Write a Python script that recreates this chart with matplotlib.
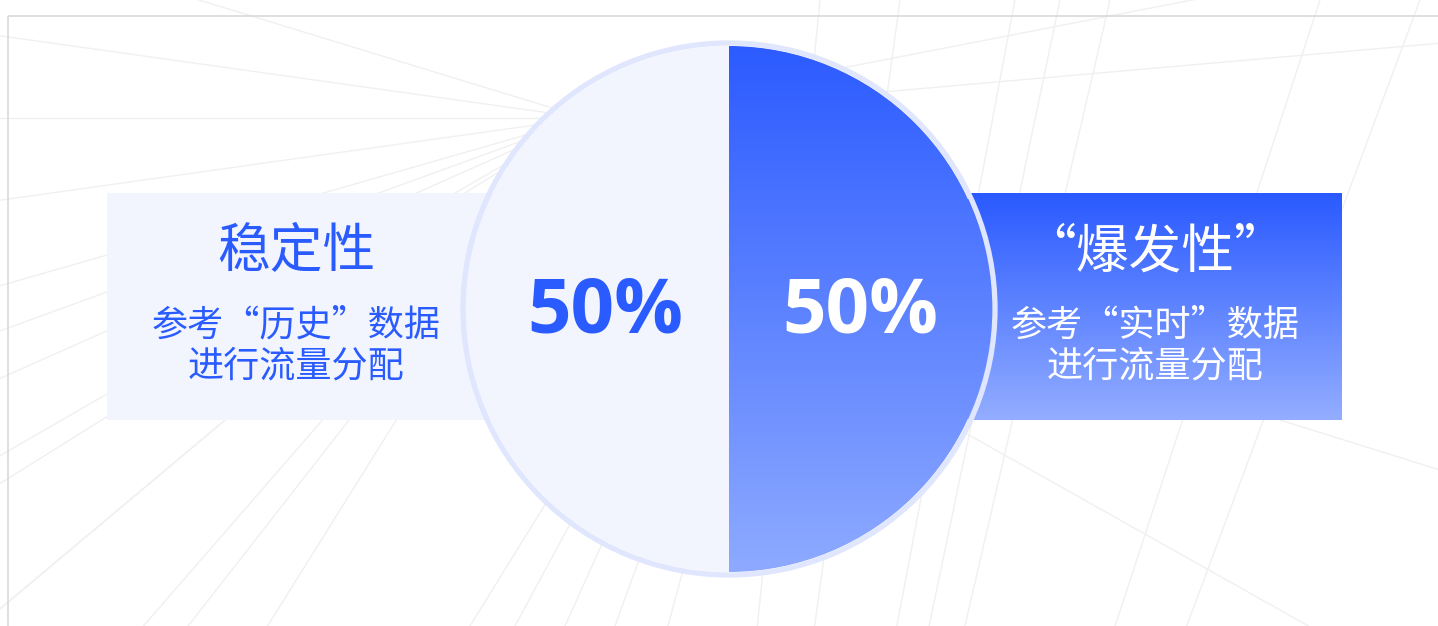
import numpy as np
import matplotlib.pyplot as plt
from matplotlib.patches import Rectangle, Circle
from matplotlib.colors import to_rgb

plt.rcParams['font.family'] = ['Noto Sans CJK SC', 'DejaVu Sans']

# data
shares = [50, 50]
share_labels = ['50%', '50%']
titles = ['稳定性', '“爆发性”']
notes = ['参考“历史”数据\n进行流量分配', '参考“实时”数据\n进行流量分配']

W, H = 1438, 626
fig = plt.figure(figsize=(W / 100, H / 100), dpi=100)
ax = fig.add_axes([0, 0, 1, 1])
ax.set_axis_off()


def gradient(c_top, c_bot, n=256):
    a = np.array(to_rgb(c_top))
    b = np.array(to_rgb(c_bot))
    t = np.linspace(0, 1, n)[:, None]
    return (a + (b - a) * t)[:, None, :]


# faint perspective lines in the background
line_kw = dict(color='#f0f0f0', lw=1.0, zorder=0, solid_capstyle='butt')
cx, cy = 585, 118
for ang in [-160, -150, -140, -128, 163, 172, 180, 188, 196, 204, 212, 220, 229, 238, 5, 11]:
    r = np.radians(ang)
    ax.plot([cx, cx + 2000 * np.cos(r)], [cy, cy - 2000 * np.sin(r)], **line_kw)
for xt in [820, 900, 1015, 1060, 1110, 1320, 1420]:
    ax.plot([xt, 600], [0, 2200], **line_kw)
for xb in [470, 515, 565, 615, 668]:
    ax.plot([xb, 820], [626, 60], **line_kw)
ax.plot([960, 1440], [430, 700], **line_kw)
ax.plot([1280, 1440], [420, 470], **line_kw)

# frame
ax.add_patch(Rectangle((8, 16), 1600, 800, fill=False, ec='#d9d9d9', lw=1.2, zorder=1))

# side boxes
ax.add_patch(Rectangle((107, 193), 390, 227, fc='#f2f5fe', ec='none', zorder=2))
ax.imshow(gradient('#2a5aff', '#93adff'), extent=(968, 1342, 420, 193),
          aspect='auto', zorder=2, interpolation='bilinear')

# half/half circle
wedges, _ = ax.pie(shares, startangle=90, counterclock=True, center=(729, 309), radius=263,
                   colors=['#f2f5fe', 'none'], wedgeprops=dict(linewidth=0))
for w in wedges:
    w.set_zorder(3)
im = ax.imshow(gradient('#2c5bff', '#8eaaff'), extent=(729, 995, 572, 46),
               aspect='auto', zorder=3, interpolation='bilinear')
im.set_clip_path(wedges[1])
ax.add_patch(Circle((729, 309), 266, fill=False, ec='#dfe6fd', lw=3.8, zorder=4))

# labels
ax.text(605, 313, share_labels[0], ha='center', va='center', fontsize=55,
        family='Open Sans', weight='bold', color='#2a5bff', zorder=5)
ax.text(860, 313, share_labels[1], ha='center', va='center', fontsize=55,
        family='Open Sans', weight='bold', color='white', zorder=5)

ax.text(296, 252, titles[0], ha='center', va='center', fontsize=38, color='#2a5bff', zorder=5)
ax.text(296, 346, notes[0], ha='center', va='center', fontsize=26, linespacing=1.18,
        color='#2a5bff', zorder=5)
ax.text(1155, 252, titles[1], ha='center', va='center', fontsize=38, color='white', zorder=5)
ax.text(1155, 346, notes[1], ha='center', va='center', fontsize=26, linespacing=1.18,
        color='white', zorder=5)

ax.set_xlim(0, W)
ax.set_ylim(H, 0)
ax.set_aspect('equal')

fig.savefig('out.png', dpi=100, facecolor='white')
